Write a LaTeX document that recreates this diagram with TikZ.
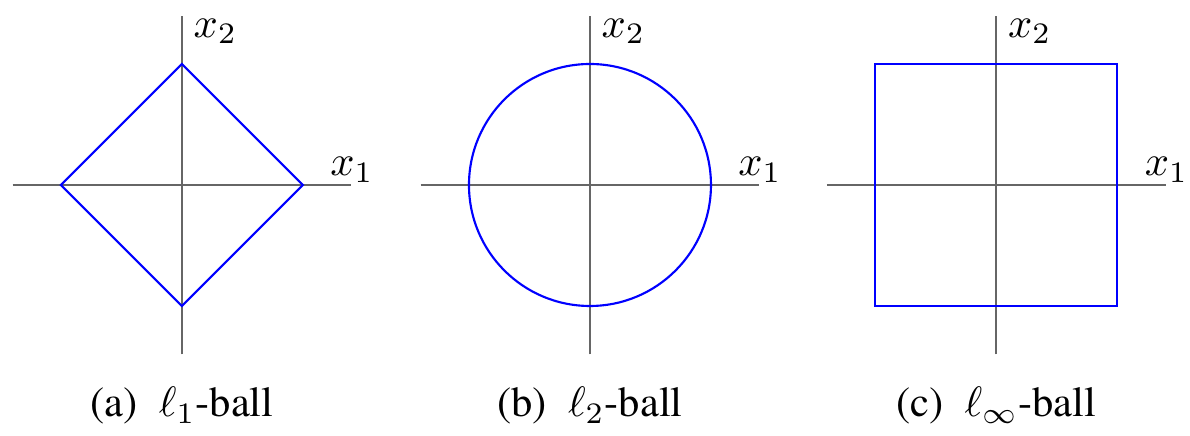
\documentclass[tikz,border=0pt]{standalone}
\usepackage{amsmath}
\usepackage{fontspec}
\newfontfamily\capfont{TeX Gyre Termes}
\tikzset{
  axisline/.style={black!60, line width=0.5pt},
  ballline/.style={blue, line width=0.5pt},
  axislabel/.style={anchor=base west, inner sep=0pt},
  ballcaption/.style={anchor=base, inner sep=0pt, font=\capfont},
}

\begin{document}
\begin{tikzpicture}
  \useasboundingbox (-1.504,-2.074) rectangle (8.331,1.529);
  % --- (a) l1 ball ---
  \begin{scope}
    \draw[axisline] (-1.4,0) -- (1.4,0);
    \draw[axisline] (0,-1.4) -- (0,1.4);
    \draw[ballline] (1,0) -- (0,1) -- (-1,0) -- (0,-1) -- cycle;
    \node[axislabel] (a-x1) at (1.22,0.075) {$x_1$};
    \node[axislabel] (a-x2) at (0.09,1.22) {$x_2$};
    \node[ballcaption] (a-cap) at (0,-1.917) {(a)\enspace$\ell_1$-ball};
  \end{scope}
  % --- (b) l2 ball ---
  \begin{scope}[xshift=3.372cm]
    \draw[axisline] (-1.4,0) -- (1.4,0);
    \draw[axisline] (0,-1.4) -- (0,1.4);
    \draw[ballline] (0,0) circle (1);
    \node[axislabel] (b-x1) at (1.22,0.075) {$x_1$};
    \node[axislabel] (b-x2) at (0.09,1.22) {$x_2$};
    \node[ballcaption] (b-cap) at (0,-1.917) {(b)\enspace$\ell_2$-ball};
  \end{scope}
  % --- (c) l-infinity ball ---
  \begin{scope}[xshift=6.73cm]
    \draw[axisline] (-1.4,0) -- (1.4,0);
    \draw[axisline] (0,-1.4) -- (0,1.4);
    \draw[ballline] (-1,-1) rectangle (1,1);
    \node[axislabel] (c-x1) at (1.22,0.075) {$x_1$};
    \node[axislabel] (c-x2) at (0.09,1.22) {$x_2$};
    \node[ballcaption] (c-cap) at (0,-1.917) {(c)\enspace$\ell_\infty$-ball};
  \end{scope}
\end{tikzpicture}
\end{document}
